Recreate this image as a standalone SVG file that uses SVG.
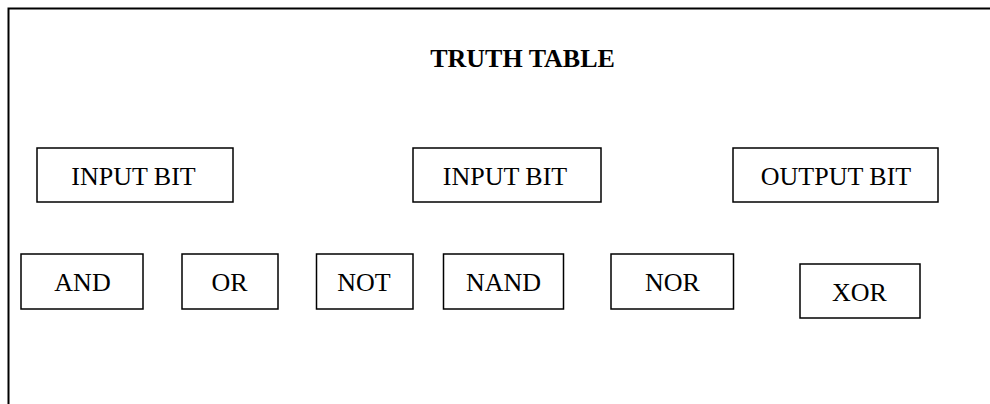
<svg xmlns="http://www.w3.org/2000/svg" width="990" height="404" viewBox="0 0 990 404">
  <style>
    .box { fill: #ffffff; stroke: #000000; stroke-width: 1.5; }
    .lbl { font-family: "Liberation Serif", "Times New Roman", serif; font-size: 26px; fill: #000000; text-anchor: middle; }
    .title { font-weight: bold; }
    .frame { fill: none; stroke: #000000; stroke-width: 2; }
  </style>
  <rect x="0" y="0" width="990" height="404" fill="#ffffff"/>
  <g id="frame">
    <path class="frame" d="M 8.5 410 L 8.5 8.5 L 1000 8.5"/>
  </g>
  <g id="title">
    <text class="lbl title" x="522.5" y="67">TRUTH TABLE</text>
  </g>
  <g id="input-bit-1">
    <rect class="box" x="37" y="148" width="196" height="54"/>
    <text class="lbl" x="133.5" y="185">INPUT BIT</text>
  </g>
  <g id="input-bit-2">
    <rect class="box" x="413" y="148" width="188" height="54"/>
    <text class="lbl" x="505" y="185">INPUT BIT</text>
  </g>
  <g id="output-bit">
    <rect class="box" x="733" y="148" width="205" height="54"/>
    <text class="lbl" x="836" y="185">OUTPUT BIT</text>
  </g>
  <g id="and">
    <rect class="box" x="21" y="254" width="122" height="55"/>
    <text class="lbl" x="82.5" y="290.5">AND</text>
  </g>
  <g id="or">
    <rect class="box" x="182" y="254" width="96" height="55"/>
    <text class="lbl" x="229.5" y="290.5">OR</text>
  </g>
  <g id="not">
    <rect class="box" x="316.5" y="254" width="96.5" height="55"/>
    <text class="lbl" x="364" y="290.5">NOT</text>
  </g>
  <g id="nand">
    <rect class="box" x="443.5" y="254" width="120" height="55"/>
    <text class="lbl" x="503.5" y="290.5">NAND</text>
  </g>
  <g id="nor">
    <rect class="box" x="611" y="254" width="122.5" height="55"/>
    <text class="lbl" x="672.5" y="290.5">NOR</text>
  </g>
  <g id="xor">
    <rect class="box" x="800" y="264" width="120" height="54"/>
    <text class="lbl" x="859.5" y="301">XOR</text>
  </g>
  <g id="connectors"/>
</svg>
